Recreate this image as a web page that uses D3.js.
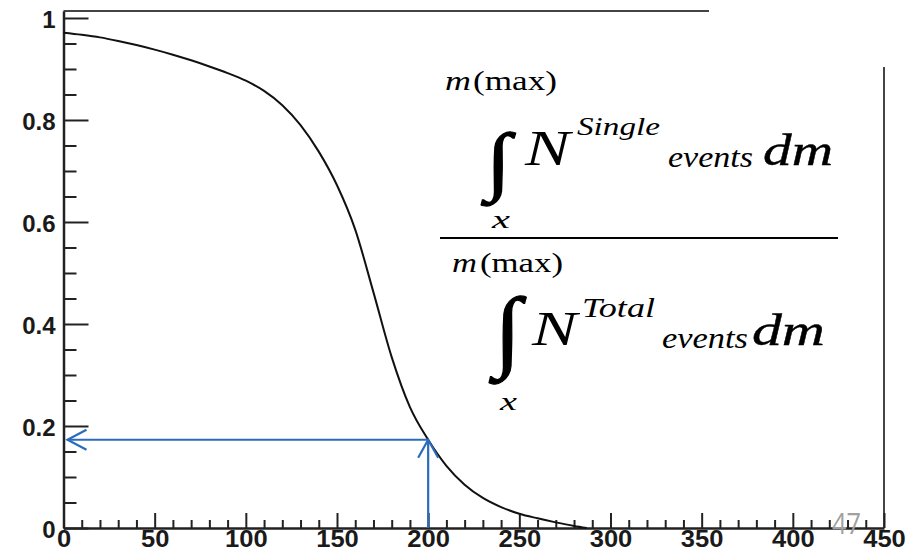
<!DOCTYPE html>
<html>
<head>
<meta charset="utf-8">
<script src="https://cdn.jsdelivr.net/npm/d3@7"></script>
<style>
  html, body { margin: 0; padding: 0; background: #fff; }
  svg { display: block; }
</style>
</head>
<body>
<svg id="chart" width="912" height="553"></svg>
<script>
// ---- data ----
const massValues = [0, 10, 20, 30, 40, 50, 60, 70, 80, 90, 100, 110, 120, 130, 140, 150, 160, 170, 180, 190, 200, 210, 220, 230, 240, 250, 260, 270, 280, 287];
const fractionValues = [0.971, 0.967, 0.962, 0.955, 0.947, 0.938, 0.928, 0.917, 0.905, 0.892, 0.877, 0.857, 0.829, 0.790, 0.738, 0.672, 0.585, 0.462, 0.335, 0.237, 0.173, 0.122, 0.085, 0.059, 0.041, 0.028, 0.019, 0.011, 0.004, 0.0];
const xMajorTicks = [0, 50, 100, 150, 200, 250, 300, 350, 400, 450];
const xTickLabels = ["0", "50", "100", "150", "200", "250", "300", "350", "400", "450"];
const yMajorTicks = [0, 0.2, 0.4, 0.6, 0.8, 1.0];
const yTickLabels = ["0", "0.2", "0.4", "0.6", "0.8", "1"];
const arrowX = 200;
const arrowY = 0.173;
const slideNumber = "47";

// ---- scales ----
const svg = d3.select("#chart");
const x = d3.scaleLinear().domain([0, 450]).range([63.5, 884]);
const y = d3.scaleLinear().domain([0, 1.0137]).range([528, 11]);

const xMinor = d3.range(0, 451, 10).filter(v => v % 50 !== 0);
const yMinor = d3.range(0, 1.001, 0.05).map(v => +v.toFixed(2)).filter(v => Math.round(v * 100) % 20 !== 0);

// ---- frame (top and right) ----
svg.append("line").attr("x1", x(0)).attr("x2", 709).attr("y1", y.range()[1]).attr("y2", y.range()[1])
  .attr("stroke", "#444").attr("stroke-width", 2);
svg.append("line").attr("x1", x(450)).attr("x2", x(450)).attr("y1", 67).attr("y2", y(0))
  .attr("stroke", "#444").attr("stroke-width", 2);

// ---- axes ----
const gx = svg.append("g").attr("transform", `translate(0,${y(0)})`)
  .call(d3.axisBottom(x).tickValues(xMajorTicks).tickSize(-15).tickSizeOuter(0).tickPadding(3)
    .tickFormat((d, i) => xTickLabels[i]));
svg.append("g").attr("transform", `translate(0,${y(0)})`)
  .call(d3.axisBottom(x).tickValues(xMinor).tickSize(-8).tickSizeOuter(0).tickFormat(""))
  .call(g => g.select(".domain").remove());
const gy = svg.append("g").attr("transform", `translate(${x(0)},0)`)
  .call(d3.axisLeft(y).tickValues(yMajorTicks).tickSize(-25).tickSizeOuter(0).tickPadding(8)
    .tickFormat((d, i) => yTickLabels[i]));
svg.append("g").attr("transform", `translate(${x(0)},0)`)
  .call(d3.axisLeft(y).tickValues(yMinor).tickSize(-13).tickSizeOuter(0).tickFormat(""))
  .call(g => g.select(".domain").remove());

svg.selectAll(".tick line").attr("stroke", "#222").attr("stroke-width", 2);
svg.selectAll(".domain").attr("stroke", "#222").attr("stroke-width", 2.5);
gx.selectAll("text").attr("font-family", "'Liberation Sans', Arial, sans-serif").attr("font-weight", "bold")
  .attr("font-size", 23).attr("fill", "#1a1a1a")
  .attr("textLength", (d, i) => 14.2 * xTickLabels[i].length).attr("lengthAdjust", "spacingAndGlyphs");
gy.selectAll("text").attr("font-family", "'Liberation Sans', Arial, sans-serif").attr("font-weight", "bold")
  .attr("font-size", 24).attr("fill", "#1a1a1a").attr("dy", "0.39em");

// ---- curve ----
const pts = massValues.map((m, i) => [m, fractionValues[i]]);
svg.append("path").datum(pts)
  .attr("fill", "none").attr("stroke", "#111").attr("stroke-width", 2)
  .attr("d", d3.line().x(d => x(d[0])).y(d => y(d[1])).curve(d3.curveMonotoneX));

// ---- arrows ----
const blue = "#2a6cbb";
const ax = x(arrowX), ay = y(arrowY);
const leftTip = x(0) + 4;
const arrows = svg.append("g").attr("stroke", blue).attr("stroke-width", 2.2).attr("fill", "none");
arrows.append("line").attr("x1", ax).attr("y1", ay).attr("x2", leftTip).attr("y2", ay);
arrows.append("path").attr("d", `M${leftTip + 19},${ay - 10} L${leftTip},${ay} L${leftTip + 19},${ay + 10}`);
arrows.append("line").attr("x1", ax).attr("y1", y(0)).attr("x2", ax).attr("y2", ay);
arrows.append("path").attr("d", `M${ax - 10},${ay + 18} L${ax},${ay} L${ax + 10},${ay + 18}`);

// ---- formula (white background cutting the frame) ----
svg.append("rect").attr("x", 709).attr("y", 0).attr("width", 203).attr("height", 66).attr("fill", "#fff");
const f = svg.append("g").attr("font-family", "'Liberation Serif', 'Times New Roman', serif").attr("fill", "#000");
const pieces = [
  // numerator
  { t: "m", x: 445, y: 90, s: 27, w: 26, it: true, b: 0 },
  { t: "(max)", x: 473, y: 90, s: 27, w: 84, it: false, b: 0 },
  { t: "\u222B", x: 486, y: 186, s: 76, w: 25, it: false, b: 1.2 },
  { t: "N", x: 525, y: 165, s: 50, w: 45, it: true, b: 0 },
  { t: "Single", x: 577, y: 135, s: 26, w: 83, it: true, b: 0 },
  { t: "events", x: 668, y: 167, s: 30, w: 85, it: true, b: 0 },
  { t: "dm", x: 763, y: 165, s: 44, w: 70, it: true, b: 0.4 },
  { t: "x", x: 492, y: 228, s: 25, w: 18, it: true, b: 0 },
  // denominator
  { t: "m", x: 452, y: 272, s: 27, w: 25, it: true, b: 0 },
  { t: "(max)", x: 480, y: 272, s: 27, w: 83, it: false, b: 0 },
  { t: "\u222B", x: 494, y: 360, s: 90, w: 27, it: false, b: 1.2 },
  { t: "N", x: 532, y: 345, s: 49, w: 45, it: true, b: 0 },
  { t: "Total", x: 582, y: 317, s: 27, w: 73, it: true, b: 0 },
  { t: "events", x: 662, y: 348, s: 30, w: 86, it: true, b: 0 },
  { t: "dm", x: 752, y: 345, s: 44, w: 73, it: true, b: 0.4 },
  { t: "x", x: 500, y: 410, s: 25, w: 17, it: true, b: 0 }
];
f.selectAll("text").data(pieces).join("text")
  .attr("x", d => d.x).attr("y", d => d.y)
  .attr("font-size", d => d.s)
  .attr("font-style", d => d.it ? "italic" : "normal")
  .attr("stroke", d => d.b ? "#000" : "none").attr("stroke-width", d => d.b)
  .attr("textLength", d => d.w).attr("lengthAdjust", "spacingAndGlyphs")
  .text(d => d.t);
f.append("line").attr("x1", 440).attr("x2", 838).attr("y1", 238).attr("y2", 238)
  .attr("stroke", "#000").attr("stroke-width", 2);

// ---- slide number ----
svg.append("text").attr("x", 832).attr("y", 534)
  .attr("font-family", "'Open Sans', 'Liberation Sans', sans-serif").attr("font-size", 30)
  .attr("textLength", 29).attr("lengthAdjust", "spacingAndGlyphs")
  .attr("fill", "#a0a0a0").text(slideNumber);
</script>
</body>
</html>
